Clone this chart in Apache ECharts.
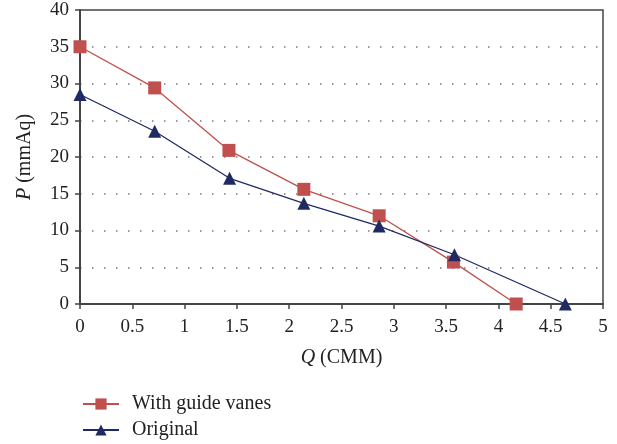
<!DOCTYPE html>
<html><head><meta charset="utf-8">
<script src="https://cdn.jsdelivr.net/npm/echarts@6/dist/echarts.min.js"></script>
<style>html,body{margin:0;padding:0;background:#fff}#c{width:617px;height:444px}</style>
</head><body><div id="c"></div>
<script>
const seriesNames = ['With guide vanes', 'Original'];
const qGuide = [0, 0.714, 1.424, 2.14, 2.86, 3.57, 4.17];
const pGuide = [35, 29.4, 20.9, 15.6, 12.0, 5.7, 0];
const qOrig = [0, 0.714, 1.43, 2.14, 2.86, 3.58, 4.64];
const pOrig = [28.5, 23.5, 17.1, 13.7, 10.6, 6.7, 0];
const font = 'Liberation Serif';
const chart = echarts.init(document.getElementById('c'));
const pair = (xs, ys) => xs.map((x, i) => [x, ys[i]]);
const nameStyle = { rich: { i: { fontStyle: 'italic', fontSize: 20, fontFamily: font, color: '#222' } }, fontSize: 20, color: '#222', fontFamily: font };
chart.setOption({
  animation: false,
  textStyle: { fontFamily: font },
  grid: { left: 80, right: 14, top: 10, bottom: 140, show: true, borderColor: '#444', borderWidth: 1.5 },
  xAxis: {
    type: 'value', min: 0, max: 5, interval: 0.5,
    name: '{i|Q} (CMM)', nameLocation: 'middle', nameGap: 44,
    nameTextStyle: nameStyle,
    axisLine: { lineStyle: { color: '#444', width: 2 } },
    axisTick: { show: true, length: 5, lineStyle: { color: '#444', width: 1.5 } },
    axisLabel: { fontSize: 19, color: '#222', margin: 14, fontFamily: font },
    splitLine: { show: false }
  },
  yAxis: {
    type: 'value', min: 0, max: 40, interval: 5,
    name: '{i|P} (mmAq)', nameLocation: 'middle', nameGap: 45,
    nameTextStyle: nameStyle,
    axisLine: { show: true, lineStyle: { color: '#444', width: 2 } },
    axisTick: { show: true, length: 5, lineStyle: { color: '#444', width: 1.5 } },
    axisLabel: { fontSize: 19, color: '#222', margin: 11, fontFamily: font },
    splitLine: { show: true, lineStyle: { color: '#777', width: 1.5, type: [1.5, 10.5] } }
  },
  legend: {
    orient: 'vertical', left: 82, top: 394, itemGap: 6, padding: 0,
    itemWidth: 36, itemHeight: 14,
    textStyle: { fontSize: 20, color: '#222', fontFamily: font, padding: [0, 0, 0, 8] },
    data: seriesNames
  },
  series: [
    { name: seriesNames[0], type: 'line', data: pair(qGuide, pGuide),
      symbol: 'rect', symbolSize: 13, color: '#C0504D',
      lineStyle: { width: 1.3, color: '#C0504D' }, itemStyle: { color: '#C0504D' } },
    { name: seriesNames[1], type: 'line', data: pair(qOrig, pOrig),
      symbol: 'triangle', symbolSize: 13, color: '#1F2A63',
      lineStyle: { width: 1.3, color: '#1F2A63' }, itemStyle: { color: '#1F2A63' } }
  ]
});
</script></body></html>
